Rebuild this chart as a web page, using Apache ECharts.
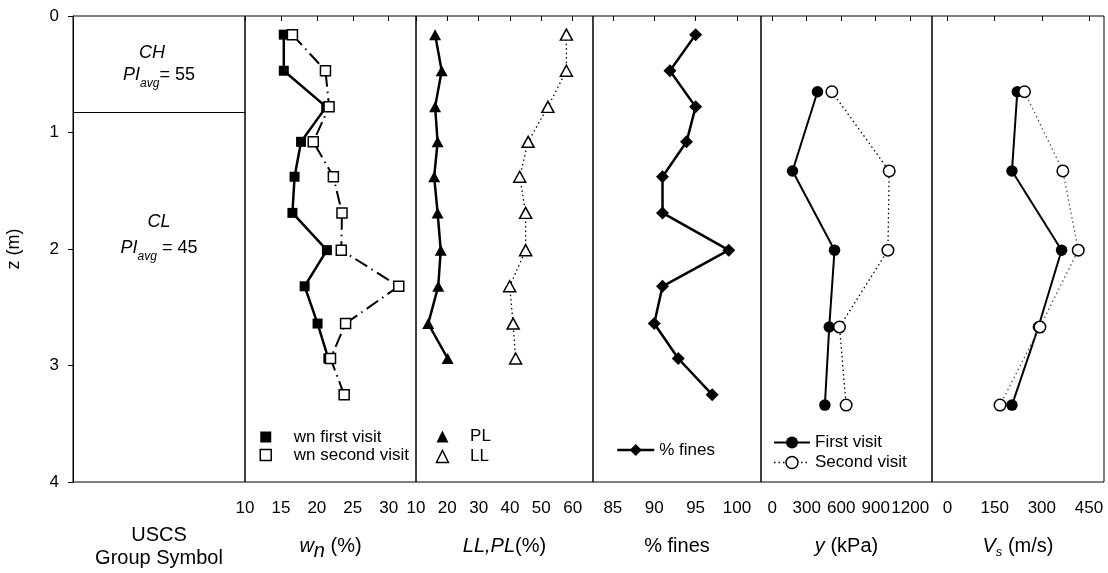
<!DOCTYPE html>
<html>
<head>
<meta charset="utf-8">
<title>Soil profile</title>
<script src="https://cdn.jsdelivr.net/npm/echarts@6.0.0/dist/echarts.min.js"></script>
<style>
  html, body { margin: 0; padding: 0; background: #fff; }
  #chart { width: 1108px; height: 573px; }
</style>
</head>
<body>
<div id="chart"></div>
<script>
// ---------------- Data ----------------
// Sampling depths (m)
const sampleDepth = [0.16, 0.47, 0.78, 1.08, 1.38, 1.69, 2.01, 2.32, 2.64, 2.94, 3.25];
const fieldDepth  = [0.65, 1.33, 2.01, 2.67, 3.34];

// Natural water content wn (%)
const wnFirstVisit  = [15.4, 15.4, 21.3, 17.8, 16.9, 16.6, 21.4, 18.3, 20.1, 21.6];
const wnSecondVisit = [16.6, 21.2, 21.7, 19.5, 22.3, 23.5, 23.4, 31.4, 24.0, 21.9, 23.8];

// Atterberg limits (%)
const plasticLimit = [16.1, 18.2, 16.1, 16.9, 15.8, 16.9, 17.9, 17.1, 13.9, 20.1];
const liquidLimit  = [58.0, 58.0, 52.1, 45.8, 43.1, 45.0, 45.0, 39.9, 41.0, 41.8];

// Fines content (%)
const finesContent = [95.0, 91.9, 95.0, 93.9, 91.0, 91.0, 99.0, 91.0, 90.0, 92.9, 97.0];

// y (kPa)
const yFirstVisit  = [394, 177, 542, 496, 458];
const ySecondVisit = [519, 1017, 1006, 585, 643];

// Shear wave velocity Vs (m/s)
const vsFirstVisit  = [222, 205, 363, 289, 205];
const vsSecondVisit = [245, 367, 416, 294, 167];

// USCS layers
const uscsSymbols   = ['CH', 'CL'];
const uscsPIavg     = [55, 45];
const layerBoundary = 0.83;

// Tick labels
const depthTicks = [0, 1, 2, 3, 4];
const wnTicks    = [10, 15, 20, 25, 30];
const limitTicks = [10, 20, 30, 40, 50, 60];
const finesTicks = [85, 90, 95, 100];
const kpaTicks   = [0, 300, 600, 900, 1200];
const vsTicks    = [0, 150, 300, 450];

// ---------------- Layout & style ----------------
const FONT = '"Liberation Sans", Arial, Helvetica, sans-serif';
const BLACK = '#000';
const panelEdges = [73, 245, 416, 593, 761, 932, 1104];
const PLOT_TOP = 16, PLOT_HEIGHT = 466;

const pairs = (values, depths) => values.map((v, i) => [v, depths[i]]);

const txt = (size, extra) => Object.assign({ fontSize: size, fontFamily: FONT, color: BLACK }, extra || {});
const nameRich = {
  t:   txt(20),
  i:   txt(20, { fontStyle: 'italic' }),
  sub: txt(20, { fontStyle: 'italic', padding: [10, 0, 0, 0] }),
  subs: txt(13, { fontStyle: 'italic', padding: [12, 0, 0, 0] })
};

const panels = [
  { range: [0, 1] },
  { range: [10, 33.8],    ticks: wnTicks,    name: '{i|w}{sub|n}{t| (%)}',   gap: 49 },
  { range: [10, 66.5],    ticks: limitTicks, name: '{i|LL,PL}{t|(%)}',        gap: 54 },
  { range: [82.6, 102.9], ticks: finesTicks, name: '{t|% fines}',            gap: 54 },
  { range: [-97, 1389],   ticks: kpaTicks,   name: '{i|y}{t| (kPa)}',         gap: 54 },
  { range: [-49.6, 498],  ticks: vsTicks,    name: '{i|V}{subs|s}{t| (m/s)}', gap: 51.5 }
];

const grids = panels.map((p, i) => ({
  left: panelEdges[i],
  width: panelEdges[i + 1] - panelEdges[i],
  top: PLOT_TOP,
  height: PLOT_HEIGHT,
  show: true,
  borderColor: BLACK,
  borderWidth: 1,
  backgroundColor: 'transparent',
  containLabel: false,
  outerBoundsMode: 'none'
}));

const xAxes = panels.map((p, i) => {
  if (i === 0) {
    return {
      gridIndex: 0, type: 'value', min: p.range[0], max: p.range[1],
      axisLine: { show: false }, axisTick: { show: false }, axisLabel: { show: false },
      splitLine: { show: false },
      name: 'USCS\nGroup Symbol', nameLocation: 'middle', nameGap: 42,
      nameTextStyle: txt(20, { lineHeight: 23, align: 'center' })
    };
  }
  return {
    gridIndex: i, type: 'value', position: 'bottom',
    min: p.range[0], max: p.range[1],
    axisLine: { show: false },
    axisTick: { show: true, inside: false, length: 5, customValues: p.ticks,
                lineStyle: { color: BLACK, width: 1 } },
    axisLabel: { show: true, customValues: p.ticks, margin: 17.5, hideOverlap: false,
                 formatter: v => String(v), fontSize: 17, fontFamily: FONT, color: BLACK },
    splitLine: { show: false },
    name: p.name, nameLocation: 'middle', nameGap: p.gap,
    nameTextStyle: { rich: nameRich }
  };
});

const yAxes = panels.map((p, i) => {
  const base = { gridIndex: i, type: 'value', inverse: true, min: 0, max: 4, splitLine: { show: false } };
  if (i === 0) {
    return Object.assign(base, {
      axisLine: { show: true, lineStyle: { color: BLACK, width: 1 } },
      axisTick: { show: true, inside: false, length: 5, customValues: depthTicks,
                  lineStyle: { color: BLACK, width: 1 } },
      axisLabel: { customValues: depthTicks, margin: 14, formatter: v => String(v),
                   fontSize: 17, fontFamily: FONT, color: BLACK },
      name: 'z (m)', nameLocation: 'middle', nameGap: 50, nameRotate: 90,
      nameTextStyle: txt(18)
    });
  }
  return Object.assign(base, { show: false });
});

// marker styles
const filled = { color: BLACK, borderWidth: 0 };
const hollow = { color: '#fff', borderColor: BLACK, borderWidth: 1.5 };
const solidLine = w => ({ color: BLACK, width: w, type: 'solid' });
const dottedLine = (c) => ({ color: c || BLACK, width: 1.3, type: [1.5, 3] });
const dashDotLine = { color: BLACK, width: 2, type: [14, 5, 1.5, 5] };

const lineSeries = (name, panel, data, symbol, size, itemStyle, lineStyle, z) => ({
  name, type: 'line', xAxisIndex: panel, yAxisIndex: panel, data,
  symbol, symbolSize: size, showSymbol: true, showAllSymbol: true,
  itemStyle, lineStyle, z, silent: true, animation: false,
  emphasis: { disabled: true }
});

// USCS layer annotations
const layerLabels = [
  { depth: 0.44, symLineHeight: 16, symPad: [0, 14, 0, 0], sep: '' },
  { depth: 1.89, symLineHeight: 24, symPad: [0, 0, 0, 0],  sep: ' ' }
];
const uscsRich = {
  pi:  txt(18, { fontStyle: 'italic' }),
  avg: txt(12, { fontStyle: 'italic', padding: [16, 0, 0, 0] }),
  eq:  txt(18)
};
layerLabels.forEach((l, k) => {
  uscsRich['sym' + k] = txt(18, { fontStyle: 'italic', lineHeight: l.symLineHeight, padding: l.symPad });
});

const uscsSeries = {
  name: 'uscs', type: 'scatter', xAxisIndex: 0, yAxisIndex: 0,
  symbol: 'circle', symbolSize: 1, itemStyle: { color: 'transparent' },
  silent: true, animation: false, z: 5,
  data: uscsSymbols.map((s, k) => ({
    value: [0.5, layerLabels[k].depth],
    label: {
      show: true, position: 'inside', align: 'center', verticalAlign: 'middle',
      color: BLACK, textBorderWidth: 0, opacity: 1,
      formatter: '{sym' + k + '|' + s + '}\n{pi|PI}{avg|avg}{eq|' + layerLabels[k].sep + '= ' + uscsPIavg[k] + '}',
      rich: uscsRich
    }
  })),
  markLine: {
    silent: true, symbol: 'none', animation: false,
    label: { show: false },
    lineStyle: { color: BLACK, width: 1, type: 'solid' },
    data: [{ yAxis: layerBoundary }]
  }
};

const series = [
  uscsSeries,
  lineSeries('wn first visit',  1, pairs(wnFirstVisit,  sampleDepth), 'rect', 10, filled, solidLine(2.5), 3),
  lineSeries('wn second visit', 1, pairs(wnSecondVisit, sampleDepth), 'rect', 10, hollow, dashDotLine, 4),
  lineSeries('PL', 2, pairs(plasticLimit, sampleDepth), 'triangle', [12, 11], filled, solidLine(2.5), 3),
  lineSeries('LL', 2, pairs(liquidLimit,  sampleDepth), 'triangle', [12, 11], hollow, dottedLine(), 4),
  lineSeries('% fines', 3, pairs(finesContent, sampleDepth), 'diamond', 13, filled, solidLine(2.5), 3),
  lineSeries('First visit',  4, pairs(yFirstVisit,  fieldDepth), 'circle', 11.5, filled, solidLine(2), 3),
  lineSeries('Second visit', 4, pairs(ySecondVisit, fieldDepth), 'circle', 11.5, hollow, dottedLine(), 4),
  lineSeries('First visit',  5, pairs(vsFirstVisit,  fieldDepth), 'circle', 11.5, filled, solidLine(2), 3),
  lineSeries('Second visit', 5, pairs(vsSecondVisit, fieldDepth), 'circle', 11.5, hollow, dottedLine('#555'), 4)
];

// Symbol-only legend entries: icon box is square, text pushed right by padding
const legendText = txt(17);
const legendBase = {
  orient: 'vertical', selectedMode: false, padding: 0,
  textStyle: legendText, inactiveColor: '#000', symbolKeepAspect: true
};
const legends = [
  Object.assign({}, legendBase, {
    left: 259.5, top: 428.5, itemWidth: 11, itemHeight: 11, itemGap: 1,
    textStyle: Object.assign({}, legendText, { padding: [0, 0, 0, 17.5] }),
    data: [
      { name: 'wn first visit', icon: 'rect' },
      { name: 'wn second visit', icon: 'rect', itemStyle: { borderWidth: 1.5 } }
    ]
  }),
  Object.assign({}, legendBase, {
    left: 435.7, top: 428, itemWidth: 12, itemHeight: 12, itemGap: 3,
    textStyle: Object.assign({}, legendText, { padding: [0, 0, 0, 16.6] }),
    data: [
      { name: 'PL', icon: 'triangle' },
      { name: 'LL', icon: 'triangle', itemStyle: { borderWidth: 1.5 } }
    ]
  }),
  Object.assign({}, legendBase, {
    left: 616, top: 441.5, itemWidth: 37, itemHeight: 15, itemGap: 3,
    data: [{ name: '% fines', lineStyle: { width: 2.5 } }]
  }),
  Object.assign({}, legendBase, {
    left: 773, top: 434, itemWidth: 36, itemHeight: 15, itemGap: 3,
    data: [
      { name: 'First visit' },
      { name: 'Second visit', itemStyle: { borderWidth: 1.5 }, lineStyle: { width: 1.3 } }
    ]
  })
];

const chart = echarts.init(document.getElementById('chart'), null, { renderer: 'canvas' });
chart.setOption({
  animation: false,
  backgroundColor: '#fff',
  textStyle: { fontFamily: FONT, color: BLACK },
  grid: grids,
  xAxis: xAxes,
  yAxis: yAxes,
  legend: legends,
  tooltip: { show: false },
  series
});
</script>
</body>
</html>
